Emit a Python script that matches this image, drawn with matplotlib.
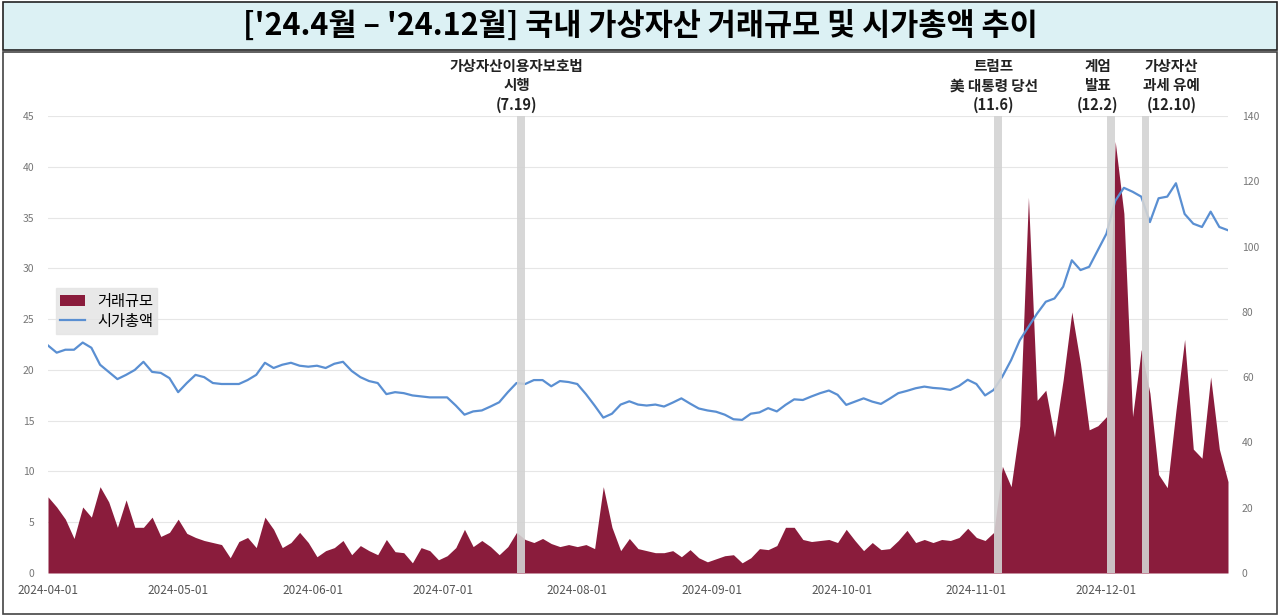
import pandas as pd
import matplotlib.pyplot as plt
import matplotlib.dates as mdates
from matplotlib.patches import Rectangle

plt.rcParams['font.family'] = ['Noto Sans CJK KR', 'DejaVu Sans']

# 2일 간격 데이터 (2024-04-01 ~ 2024-12-29)
dates = pd.date_range('2024-04-01', periods=137, freq='2D')

# 거래규모 (왼쪽 축)
volume = [7.5, 6.5, 5.3, 3.4, 6.5, 5.5, 8.5, 7.0, 4.5, 7.2,
          4.5, 4.5, 5.5, 3.6, 4.0, 5.3, 3.9, 3.5, 3.2, 3.0,
          2.8, 1.5, 3.1, 3.5, 2.5, 5.5, 4.3, 2.5, 3.0, 4.0,
          3.0, 1.6, 2.2, 2.5, 3.2, 1.8, 2.7, 2.2, 1.8, 3.3,
          2.1, 2.0, 1.0, 2.5, 2.2, 1.3, 1.7, 2.5, 4.3, 2.6,
          3.2, 2.6, 1.8, 2.6, 4.0, 3.3, 3.0, 3.4, 2.9, 2.6,
          2.8, 2.6, 2.8, 2.4, 8.5, 4.5, 2.2, 3.4, 2.4, 2.2,
          2.0, 2.0, 2.2, 1.6, 2.3, 1.5, 1.1, 1.4, 1.7, 1.8,
          1.0, 1.5, 2.4, 2.3, 2.7, 4.5, 4.5, 3.3, 3.1, 3.2,
          3.3, 3.0, 4.3, 3.2, 2.2, 3.0, 2.3, 2.4, 3.2, 4.2,
          3.0, 3.3, 3.0, 3.3, 3.2, 3.5, 4.4, 3.5, 3.2, 4.0,
          10.5,
          8.5, 14.5, 37.0, 17.0, 18.0, 13.4, 19.0, 25.7, 20.6, 14.1,
          14.5, 15.4, 42.5, 35.4, 15.4, 22.0, 17.7, 9.7, 8.4, 16.0,
          23.0, 12.2, 11.3, 19.3, 12.2, 9.0]

# 시가총액 (오른쪽 축)
mcap = [69.7, 67.5, 68.4, 68.4, 70.6, 69.0, 63.8, 61.6, 59.4, 60.7,
        62.2, 64.7, 61.6, 61.3, 59.7, 55.4, 58.2, 60.7, 60.0, 58.2,
        57.9, 57.9, 57.9, 59.1, 60.7, 64.4, 62.8, 63.8, 64.4, 63.5,
        63.2, 63.5, 62.8, 64.1, 64.7, 61.9, 60.0, 58.8, 58.2, 54.8,
        55.4, 55.1, 54.4, 54.1, 53.8, 53.8, 53.8, 51.3, 48.5, 49.5,
        49.8, 51.0, 52.3, 55.4, 58.2, 57.9, 59.1, 59.1, 57.2, 58.8,
        58.5, 57.9, 54.8, 51.3, 47.6, 48.8, 51.6, 52.6, 51.6, 51.3,
        51.6, 51.0, 52.2, 53.5, 51.9, 50.4, 49.8, 49.4, 48.5, 47.1,
        46.9, 48.8, 49.2, 50.5, 49.5, 51.5, 53.2, 53.0, 54.1, 55.1,
        55.9, 54.6, 51.5, 52.5, 53.5, 52.5, 51.8, 53.4, 55.1, 55.8,
        56.6, 57.1, 56.7, 56.5, 56.1, 57.3, 59.2, 57.9, 54.4, 56.1,
        60.2,
        65.2, 71.3, 75.4, 79.5, 83.1, 84.1, 87.7, 95.8, 92.8, 93.8,
        98.9, 104.0, 114.0, 118.0, 116.8, 115.3, 107.5, 114.8, 115.3, 119.4,
        110.0, 107.0, 106.0, 110.7, 106.0, 105.0]

events = ['2024-07-19', '2024-11-06', '2024-12-02', '2024-12-10']
label_pos = ['2024-07-18', '2024-11-05', '2024-11-29', '2024-12-16']
event_labels = ['가상자산이용자보호법\n시행\n(7.19)', '트럼프\n美 대통령 당선\n(11.6)',
                '계엄\n발표\n(12.2)', '가상자산\n과세 유예\n(12.10)']

maroon = '#8a1c3c'
blue = '#5a8fd2'

fig = plt.figure(figsize=(12.8, 6.16), dpi=100)

# 제목 박스
fig.patches.append(Rectangle((0.002, 1 - 50 / 616), 0.996, 48 / 616, transform=fig.transFigure,
                             facecolor='#dcf1f4', edgecolor='#222222', lw=1.2))
fig.text(0.5, 1 - 26 / 616, "['24.4월 – '24.12월] 국내 가상자산 거래규모 및 시가총액 추이",
         ha='center', va='center', fontsize=22, fontweight='bold')
# 차트 테두리
fig.patches.append(Rectangle((0.002, 0.004), 0.996, 1 - 54 / 616, transform=fig.transFigure,
                             facecolor='none', edgecolor='#444444', lw=1.2))

ax = fig.add_axes([48 / 1280, 1 - 573 / 616, 1180 / 1280, 457 / 616])
ax2 = ax.twinx()

ax.fill_between(dates, volume, 0, color=maroon, lw=0, label='거래규모', zorder=2)
ax2.plot(dates, mcap, color=blue, lw=1.6, label='시가총액', zorder=3)

ax.set_ylim(0, 45)
ax.set_yticks(range(0, 46, 5))
ax2.set_ylim(0, 140)
ax2.set_yticks(range(0, 141, 20))
ax.set_xlim(dates[0], dates[-1])
ax.xaxis.set_major_locator(mdates.MonthLocator())
ax.xaxis.set_major_formatter(mdates.DateFormatter('%Y-%m-%d'))

ax.grid(axis='y', color='#e6e6e6', lw=0.8, zorder=0)
ax.set_axisbelow(True)
for a in (ax, ax2):
    for s in a.spines.values():
        s.set_visible(False)
    a.tick_params(length=0, labelsize=7.5, labelcolor='#777777')
ax.tick_params(axis='x', labelsize=8.5, labelcolor='#555555', pad=8)
ax.tick_params(axis='y', pad=10)
ax2.tick_params(axis='y', pad=10)

for d, p, lab in zip(events, label_pos, event_labels):
    t = pd.Timestamp(d)
    ax2.axvspan(t - pd.Timedelta(days=0.9), t + pd.Timedelta(days=0.9), color='#d3d3d3', alpha=0.9, lw=0, zorder=4)
    ax2.text(pd.Timestamp(p), 141, lab, ha='center', va='bottom', fontsize=10.5,
             fontweight='bold', linespacing=1.25, color='#222222')

h1, l1 = ax.get_legend_handles_labels()
h2, l2 = ax2.get_legend_handles_labels()
leg = ax2.legend(h1 + h2, l1 + l2, loc='upper left', bbox_to_anchor=(0.0, 0.64), fontsize=11,
                 frameon=True, facecolor='#e3e3e3', edgecolor='#e3e3e3', fancybox=False,
                 handlelength=1.6, borderpad=0.3, labelspacing=0.2)
leg.set_zorder(5)

fig.savefig('out.png', dpi=100)
